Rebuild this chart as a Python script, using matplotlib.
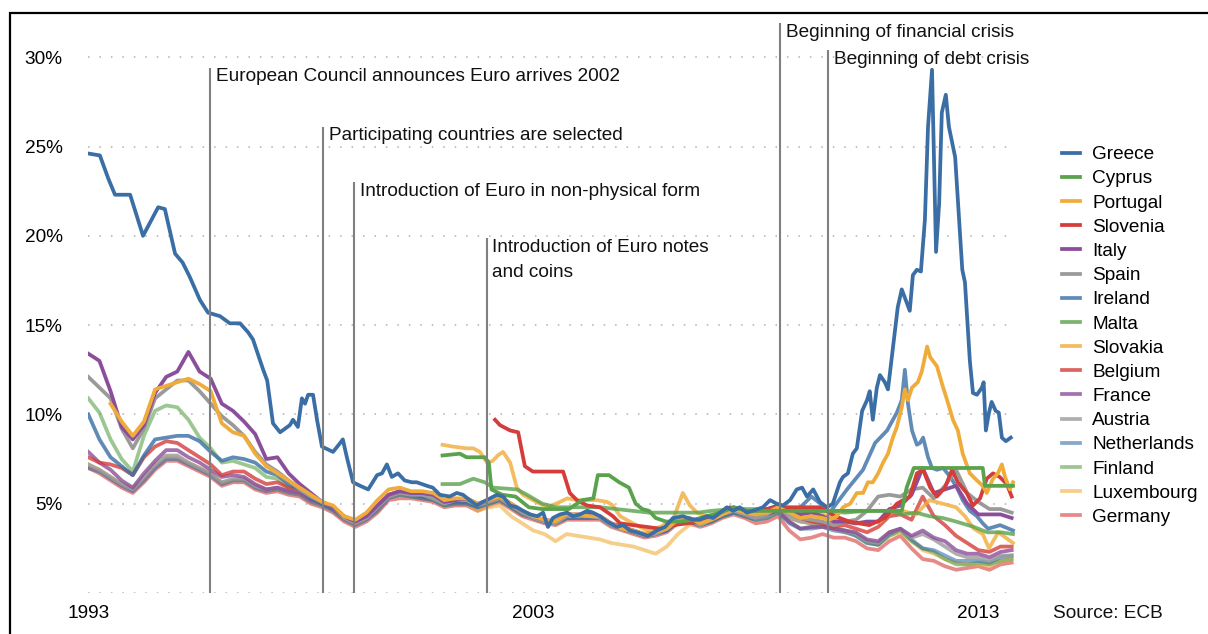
import matplotlib
matplotlib.use('Agg')
import matplotlib.pyplot as plt
import matplotlib.patches as mpatches
import numpy as np

plt.rcParams['font.family'] = ['Liberation Sans', 'DejaVu Sans']

# quarterly time axis used by the series that sit in the main pack
qt = np.arange(1993, 2013.76, 0.25)

germany = [7.0, 6.7, 6.3, 5.9,  5.6, 6.2, 6.9, 7.4,  7.4, 7.1, 6.8, 6.5,  6.0, 6.2, 6.2, 5.8,
           5.6, 5.7, 5.5, 5.4,  5.0, 4.8, 4.5, 4.0,  3.7, 4.0, 4.5, 5.2,  5.3, 5.3, 5.2, 5.1,
           4.8, 4.9, 4.9, 4.6,  4.9, 5.1, 4.7, 4.3,  4.1, 3.9, 3.8, 4.1,  4.1, 4.1, 4.1, 3.7,
           3.5, 3.3, 3.1, 3.2,  3.4, 3.9, 3.9, 3.7,  3.9, 4.2, 4.4, 4.2,  3.9, 4.0, 4.3, 3.5,
           3.0, 3.1, 3.3, 3.1,  3.1, 2.9, 2.5, 2.4,  2.9, 3.2, 2.5, 1.9,  1.8, 1.5, 1.3, 1.4,
           1.5, 1.3, 1.6, 1.7]
netherlands = [7.0, 6.8, 6.4, 6.0,  5.7, 6.3, 7.0, 7.5,  7.5, 7.2, 6.9, 6.6,  6.1, 6.3, 6.3, 5.9,
               5.7, 5.8, 5.6, 5.5,  5.1, 4.9, 4.6, 4.1,  3.8, 4.1, 4.6, 5.3,  5.5, 5.4, 5.3, 5.2,
               4.9, 5.0, 5.0, 4.8,  5.0, 5.2, 4.8, 4.4,  4.2, 4.0, 3.9, 4.2,  4.2, 4.2, 4.2, 3.8,
               3.6, 3.4, 3.2, 3.3,  3.5, 4.0, 4.0, 3.8,  4.0, 4.3, 4.5, 4.3,  4.1, 4.2, 4.5, 3.9,
               3.6, 3.6, 3.7, 3.5,  3.4, 3.2, 2.8, 2.7,  3.3, 3.6, 3.0, 2.5,  2.4, 2.1, 1.8, 1.8,
               1.8, 1.7, 2.0, 2.1]
austria = [7.2, 6.9, 6.5, 6.1,  5.8, 6.5, 7.2, 7.7,  7.7, 7.3, 7.0, 6.7,  6.2, 6.4, 6.4, 6.0,
           5.8, 5.9, 5.7, 5.6,  5.2, 5.0, 4.7, 4.2,  3.9, 4.2, 4.8, 5.4,  5.6, 5.5, 5.4, 5.3,
           5.0, 5.1, 5.1, 4.8,  5.1, 5.3, 4.9, 4.5,  4.2, 4.0, 3.9, 4.2,  4.2, 4.2, 4.2, 3.8,
           3.6, 3.4, 3.2, 3.3,  3.5, 4.0, 4.0, 3.8,  4.0, 4.3, 4.5, 4.4,  4.2, 4.3, 4.6, 4.2,
           4.0, 3.9, 3.9, 3.6,  3.5, 3.3, 2.9, 2.8,  3.4, 3.6, 3.1, 3.3,  3.0, 2.6, 2.2, 2.0,
           2.0, 1.8, 2.1, 2.1]
france = [7.9, 7.3, 6.9, 6.3,  5.9, 6.7, 7.4, 8.0,  8.0, 7.6, 7.3, 6.9,  6.5, 6.6, 6.5, 6.1,
          5.8, 5.9, 5.7, 5.6,  5.2, 5.0, 4.7, 4.2,  3.9, 4.2, 4.8, 5.4,  5.6, 5.5, 5.4, 5.3,
          5.0, 5.1, 5.1, 4.9,  5.1, 5.3, 4.9, 4.5,  4.2, 4.0, 3.9, 4.3,  4.3, 4.3, 4.2, 3.9,
          3.6, 3.4, 3.2, 3.3,  3.5, 4.0, 4.1, 3.9,  4.1, 4.4, 4.6, 4.4,  4.2, 4.4, 4.6, 4.0,
          3.6, 3.7, 3.7, 3.6,  3.5, 3.4, 3.0, 2.9,  3.4, 3.6, 3.2, 3.5,  3.1, 2.9, 2.4, 2.2,
          2.2, 2.0, 2.3, 2.4]
belgium = [7.6, 7.3, 7.2, 7.0,  6.6, 7.6, 8.2, 8.5,  8.4, 8.0, 7.6, 7.2,  6.6, 6.8, 6.8, 6.4,
           6.1, 6.2, 5.9, 5.8,  5.3, 5.1, 4.8, 4.2,  3.9, 4.3, 4.9, 5.5,  5.7, 5.6, 5.5, 5.4,
           5.1, 5.2, 5.2, 4.9,  5.1, 5.3, 4.9, 4.5,  4.2, 4.0, 3.9, 4.3,  4.3, 4.3, 4.2, 3.9,
           3.6, 3.4, 3.2, 3.3,  3.6, 4.0, 4.1, 3.9,  4.1, 4.4, 4.6, 4.4,  4.3, 4.4, 4.7, 4.5,
           4.2, 4.0, 3.9, 3.7,  3.8, 3.6, 3.4, 3.7,  4.3, 4.4, 4.1, 5.4,  4.3, 3.8, 3.2, 2.8,
           2.4, 2.3, 2.6, 2.6]
finland = [10.9, 10.1, 8.6, 7.5,  6.8, 8.8, 10.2, 10.5,  10.4, 9.7, 8.7, 8.1,  7.3, 7.4, 7.2, 7.0,
           6.5, 6.4, 5.9, 5.8,  5.3, 5.0, 4.7, 4.2,  3.9, 4.2, 4.7, 5.4,  5.5, 5.4, 5.3, 5.2,
           4.9, 5.0, 5.0, 4.8,  5.0, 5.2, 4.8, 4.4,  4.2, 4.0, 3.9, 4.2,  4.2, 4.2, 4.2, 3.8,
           3.6, 3.4, 3.2, 3.3,  3.5, 4.0, 4.0, 3.8,  4.0, 4.3, 4.5, 4.3,  4.1, 4.2, 4.5, 4.0,
           3.6, 3.7, 3.8, 3.6,  3.5, 3.2, 2.8, 2.7,  3.2, 3.5, 2.9, 2.5,  2.3, 1.9, 1.6, 1.6,
           1.7, 1.6, 1.8, 1.9]
luxembourg = [7.2, 6.9, 6.5, 6.1,  5.9, 6.5, 7.2, 7.6,  7.6, 7.3, 7.0, 6.7,  6.2, 6.3, 6.3, 6.0,
              5.8, 5.8, 5.6, 5.5,  5.1, 4.9, 4.6, 4.1,  3.8, 4.2, 4.7, 5.4,  5.5, 5.5, 5.4, 5.3,
              4.9, 5.0, 5.0, 4.6,  4.8, 4.9, 4.3, 3.9,  3.5, 3.3, 2.9, 3.3,  3.2, 3.1, 3.0, 2.8,
              2.7, 2.6, 2.4, 2.2,  2.6, 3.3, 3.8, 3.9,  4.1, 4.4, 4.6, 4.4,  4.2, 4.3, 4.6, 4.2,
              4.0, 3.9, 3.9, 3.6,  3.4, 3.3, 2.9, 2.7,  3.2, 3.4, 2.9, 2.4,  2.2, 1.9, 1.7, 1.6,
              1.6, 1.5, 1.8, 1.9]
italy = [13.4, 13.0, 11.3, 9.3,  8.6, 9.4, 11.2, 12.1,  12.4, 13.5, 12.4, 12.0,  10.6, 10.2, 9.6, 8.9,
         7.5, 7.6, 6.7, 6.1,  5.6, 5.1, 4.8, 4.3,  4.0, 4.3, 4.9, 5.5,  5.7, 5.6, 5.6, 5.5,
         5.1, 5.2, 5.3, 5.0,  5.2, 5.4, 5.0, 4.6,  4.3, 4.1, 4.0, 4.4,  4.4, 4.4, 4.3, 3.9,
         3.7, 3.5, 3.3, 3.4,  3.7, 4.2, 4.2, 4.0,  4.2, 4.5, 4.8, 4.6,  4.5, 4.7, 4.9, 4.7,
         4.4, 4.5, 4.3, 4.0,  4.0, 3.9, 4.0, 4.0,  4.7, 4.9, 5.5, 7.0,  5.6, 5.8, 6.0, 5.0,
         4.4, 4.4, 4.4, 4.2]
spain = [12.1, 11.5, 10.9, 9.2,  8.1, 9.2, 10.9, 11.4,  11.9, 11.9, 11.3, 10.6,  9.9, 9.4, 8.8, 7.9,
         7.2, 6.8, 6.3, 5.8,  5.4, 5.1, 4.8, 4.2,  3.9, 4.2, 4.8, 5.4,  5.6, 5.5, 5.5, 5.3,
         5.0, 5.2, 5.2, 4.9,  5.1, 5.3, 4.9, 4.5,  4.2, 4.0, 3.9, 4.3,  4.3, 4.3, 4.2, 3.8,
         3.6, 3.4, 3.2, 3.3,  3.6, 4.0, 4.1, 3.8,  4.1, 4.4, 4.6, 4.4,  4.2, 4.4, 4.8, 4.4,
         4.2, 4.1, 4.0, 3.8,  4.0, 4.1, 4.6, 5.4,  5.5, 5.4, 5.8, 5.9,  5.3, 6.0, 6.9, 5.6,
         5.1, 4.7, 4.7, 4.5]
# Ireland: quarterly up to 2008, then the crisis points
ireland_early = [10.0, 8.6, 7.6, 7.1,  6.6, 7.7, 8.6, 8.7,  8.8, 8.8, 8.5, 7.9,  7.4, 7.6, 7.5, 7.3,
                 6.8, 6.6, 6.1, 5.8,  5.3, 5.0, 4.7, 4.2,  3.9, 4.2, 4.8, 5.4,  5.6, 5.5, 5.4, 5.3,
                 5.0, 5.1, 5.1, 4.8,  5.1, 5.3, 4.9, 4.5,  4.2, 4.0, 3.9, 4.2,  4.2, 4.2, 4.2, 3.8,
                 3.6, 3.4, 3.2, 3.3,  3.5, 4.0, 4.0, 3.8,  4.0, 4.3, 4.5, 4.4,  4.3, 4.5, 4.7, 4.6]
ireland_late = [(2009.0, 4.8), (2009.25, 5.4), (2009.5, 4.9), (2009.66, 4.5), (2010.05, 5.8),
                (2010.41, 6.9), (2010.68, 8.4), (2010.95, 9.1), (2011.17, 10.1), (2011.28, 10.8),
                (2011.35, 12.5), (2011.42, 10.6), (2011.51, 9.1), (2011.62, 8.3), (2011.69, 8.4),
                (2011.76, 8.7), (2011.87, 7.6), (2011.96, 7.0), (2012.07, 6.9), (2012.21, 7.0),
                (2012.37, 6.5), (2012.52, 5.9), (2012.65, 5.2), (2012.81, 4.6), (2012.97, 4.3),
                (2013.1, 3.9), (2013.22, 3.6), (2013.49, 3.8), (2013.78, 3.5)]
# Portugal: quarterly from mid 1993 up to 2008, then crisis points
portugal_early = [10.6, 9.6,  8.8, 9.6, 11.4, 11.6,  11.8, 12.0, 11.7, 11.3,  9.5, 9.0, 8.8, 7.8,
                  7.1, 6.7, 6.3, 5.9,  5.5, 5.1, 4.9, 4.3,  4.1, 4.5, 5.2, 5.8,  5.9, 5.7, 5.7, 5.6,
                  5.2, 5.3, 5.3, 5.0,  5.2, 5.4, 5.0, 4.6,  4.3, 4.1, 4.0, 4.4,  4.4, 4.3, 4.3, 3.9,
                  3.6, 3.5, 3.3, 3.4,  3.6, 4.1, 4.2, 3.9,  4.1, 4.4, 4.7, 4.5,  4.4, 4.5, 4.8, 4.5]
portugal_late = [(2009.0, 4.2), (2009.25, 4.3), (2009.5, 4.2), (2009.66, 4.1), (2009.82, 4.3),
                 (2009.96, 4.8), (2010.12, 5.0), (2010.27, 5.6), (2010.41, 5.6), (2010.52, 6.2),
                 (2010.63, 6.2), (2010.75, 6.7), (2010.86, 7.3), (2010.97, 7.8), (2011.08, 8.7),
                 (2011.17, 9.3), (2011.28, 10.4), (2011.35, 11.4), (2011.42, 10.8), (2011.51, 11.5),
                 (2011.64, 11.8), (2011.73, 12.4), (2011.85, 13.8), (2011.92, 13.2), (2011.98, 13.0),
                 (2012.07, 12.7), (2012.21, 11.5), (2012.3, 10.8), (2012.43, 9.7), (2012.54, 9.1),
                 (2012.65, 7.8), (2012.81, 6.7), (2012.97, 6.3), (2013.1, 6.0), (2013.19, 5.6),
                 (2013.33, 6.4), (2013.44, 6.7), (2013.53, 7.2), (2013.6, 6.5), (2013.71, 5.8),
                 (2013.78, 6.2)]
greece = [(1993.02, 24.6), (1993.26, 24.5), (1993.45, 23.2), (1993.60, 22.3), (1993.94, 22.3),
          (1994.23, 20.0), (1994.40, 20.8), (1994.57, 21.6), (1994.72, 21.5), (1994.95, 19.0),
          (1995.12, 18.5), (1995.28, 17.7), (1995.51, 16.4), (1995.69, 15.7), (1995.96, 15.5),
          (1996.18, 15.1), (1996.41, 15.1), (1996.59, 14.6), (1996.70, 14.2), (1996.93, 12.5),
          (1997.02, 11.9), (1997.15, 9.5), (1997.31, 9.0), (1997.53, 9.4), (1997.60, 9.7),
          (1997.71, 9.3), (1997.80, 10.9), (1997.87, 10.6), (1997.94, 11.1), (1998.05, 11.1),
          (1998.14, 9.7), (1998.25, 8.2), (1998.50, 7.9), (1998.66, 8.4), (1998.72, 8.6),
          (1998.81, 7.6), (1998.95, 6.2), (1999.11, 6.0), (1999.29, 5.8), (1999.49, 6.6),
          (1999.60, 6.7), (1999.71, 7.2), (1999.82, 6.5), (1999.96, 6.7), (2000.11, 6.3),
          (2000.27, 6.2), (2000.38, 6.2), (2000.61, 6.0), (2000.74, 5.9), (2000.90, 5.5),
          (2001.12, 5.4), (2001.28, 5.6), (2001.42, 5.5), (2001.57, 5.2), (2001.73, 4.9),
          (2001.87, 5.1), (2002.03, 5.3), (2002.18, 5.5), (2002.32, 5.4), (2002.48, 4.9),
          (2002.63, 4.8), (2002.77, 4.6), (2002.93, 4.4), (2003.09, 4.3), (2003.22, 4.5),
          (2003.33, 3.7), (2003.44, 4.2), (2003.60, 4.4), (2003.76, 4.5), (2003.89, 4.3),
          (2004.05, 4.4), (2004.21, 4.6), (2004.34, 4.5), (2004.50, 4.3), (2004.66, 4.0),
          (2004.88, 3.7), (2005.02, 3.8), (2005.17, 3.5), (2005.33, 3.4), (2005.58, 3.2),
          (2005.78, 3.5), (2005.96, 3.7), (2006.14, 4.2), (2006.36, 4.3), (2006.59, 4.1),
          (2006.74, 4.1), (2006.90, 4.3), (2007.04, 4.2), (2007.20, 4.5), (2007.35, 4.8),
          (2007.49, 4.6), (2007.64, 4.8), (2007.80, 4.5), (2007.93, 4.6), (2008.16, 4.8),
          (2008.32, 5.2), (2008.47, 5.0), (2008.61, 4.9), (2008.77, 5.2), (2008.92, 5.8),
          (2009.04, 5.9), (2009.15, 5.4), (2009.29, 5.8), (2009.44, 5.1), (2009.60, 4.8),
          (2009.73, 5.0), (2009.89, 6.2), (2009.96, 6.5), (2010.07, 6.7), (2010.18, 7.8),
          (2010.27, 8.1), (2010.39, 10.2), (2010.50, 10.8), (2010.56, 11.3), (2010.63, 9.7),
          (2010.72, 11.5), (2010.79, 12.2), (2010.90, 11.8), (2010.97, 11.4), (2011.06, 13.3),
          (2011.19, 16.0), (2011.28, 17.0), (2011.46, 15.8), (2011.53, 17.8), (2011.62, 18.1),
          (2011.71, 18.0), (2011.80, 20.9), (2011.87, 26.1), (2011.96, 29.3), (2012.05, 19.1),
          (2012.12, 21.8), (2012.18, 26.9), (2012.27, 27.9), (2012.34, 26.1), (2012.48, 24.4),
          (2012.64, 18.1), (2012.70, 17.4), (2012.81, 13.0), (2012.88, 11.2), (2012.97, 11.1),
          (2013.08, 11.5), (2013.12, 11.8), (2013.17, 9.1), (2013.24, 10.1), (2013.30, 10.7),
          (2013.39, 10.2), (2013.46, 10.1), (2013.53, 8.7), (2013.62, 8.5), (2013.73, 8.7)]
cyprus = [(2000.96, 7.7), (2001.35, 7.8), (2001.5, 7.6), (2001.91, 7.6), (2002.0, 7.3),
          (2002.06, 5.8), (2002.3, 5.5), (2002.6, 5.4), (2002.9, 4.8), (2003.2, 4.7),
          (2003.5, 4.7), (2003.8, 4.7), (2004.1, 5.2), (2004.35, 5.3), (2004.45, 6.6),
          (2004.7, 6.6), (2004.93, 6.2), (2005.15, 5.9), (2005.3, 5.0), (2005.45, 4.7),
          (2005.6, 4.6), (2005.75, 4.2), (2005.98, 4.0), (2006.3, 4.0), (2006.6, 4.1),
          (2006.9, 4.3), (2007.2, 4.5), (2007.5, 4.8), (2007.8, 4.6), (2008.1, 4.6),
          (2008.5, 4.6), (2008.7, 4.6), (2011.28, 4.6), (2011.39, 5.9), (2011.55, 7.0),
          (2013.1, 7.0), (2013.15, 6.0), (2013.78, 6.0)]
malta = [(2000.96, 6.1), (2001.35, 6.1), (2001.65, 6.4), (2001.91, 6.2), (2002.1, 5.9),
         (2002.63, 5.8), (2002.86, 5.5), (2003.2, 5.0), (2003.53, 4.8), (2004.5, 4.8),
         (2005.6, 4.5), (2006.7, 4.5), (2007.0, 4.6), (2007.5, 4.7), (2008.0, 4.7),
         (2008.5, 4.7), (2009.0, 4.6), (2009.5, 4.6), (2010.0, 4.5), (2010.5, 4.6),
         (2011.0, 4.6), (2011.3, 4.4), (2011.6, 4.5), (2011.9, 4.3), (2012.2, 4.2),
         (2012.5, 4.0), (2012.9, 3.7), (2013.2, 3.4), (2013.5, 3.4), (2013.78, 3.3)]
slovakia = [(2000.96, 8.3), (2001.19, 8.2), (2001.5, 8.1), (2001.65, 8.1), (2001.8, 7.9),
            (2001.96, 7.3), (2002.09, 7.4), (2002.2, 7.7), (2002.32, 7.9), (2002.48, 7.3),
            (2002.63, 5.9), (2002.77, 5.5), (2002.99, 5.2), (2003.31, 4.8), (2003.6, 5.1),
            (2003.76, 5.3), (2003.98, 5.2), (2004.21, 5.2), (2004.43, 5.2), (2004.66, 5.1),
            (2004.79, 4.9), (2004.95, 4.3), (2005.24, 3.9), (2005.55, 3.5), (2005.85, 3.7),
            (2006.14, 4.1), (2006.36, 5.6), (2006.52, 4.9), (2006.68, 4.5), (2006.9, 4.3),
            (2007.2, 4.4), (2007.5, 4.6), (2007.8, 4.6), (2008.1, 4.5), (2008.4, 4.7),
            (2008.7, 4.6), (2009.0, 4.7), (2009.3, 4.6), (2009.6, 4.3), (2009.9, 4.1),
            (2010.2, 3.9), (2010.5, 3.9), (2010.8, 4.0), (2011.0, 4.5), (2011.3, 4.6),
            (2011.6, 4.4), (2011.9, 5.2), (2012.2, 5.0), (2012.5, 4.8), (2012.7, 4.3),
            (2012.9, 3.6), (2013.1, 3.3), (2013.24, 2.5), (2013.45, 3.4), (2013.78, 2.8)]
slovenia = [(2002.14, 9.7), (2002.25, 9.4), (2002.48, 9.1), (2002.66, 9.0), (2002.81, 7.1),
            (2002.99, 6.8), (2003.67, 6.8), (2003.82, 5.6), (2003.98, 5.2), (2004.21, 4.9),
            (2004.5, 4.8), (2004.79, 4.3), (2004.95, 3.9), (2005.24, 3.8), (2005.55, 3.7),
            (2005.85, 3.6), (2006.14, 3.8), (2006.45, 3.9), (2006.74, 4.0), (2007.12, 4.4),
            (2007.42, 4.8), (2007.87, 4.5), (2008.47, 4.8), (2008.83, 4.8), (2009.44, 4.8),
            (2009.78, 4.3), (2010.1, 4.0), (2010.55, 3.8), (2010.9, 4.2), (2011.17, 5.0),
            (2011.46, 5.4), (2011.62, 6.7), (2011.76, 6.9), (2011.92, 5.9), (2012.07, 5.4),
            (2012.25, 5.9), (2012.41, 6.9), (2012.54, 6.2), (2012.74, 5.6), (2012.88, 4.9),
            (2013.04, 5.3), (2013.19, 6.4), (2013.33, 6.7), (2013.48, 6.5), (2013.64, 6.1),
            (2013.75, 5.4)]

names = ['Greece', 'Cyprus', 'Portugal', 'Slovenia', 'Italy', 'Spain', 'Ireland', 'Malta',
         'Slovakia', 'Belgium', 'France', 'Austria', 'Netherlands', 'Finland', 'Luxembourg', 'Germany']

events_year = [1995.73, 1998.27, 1998.97, 2001.95, 2008.55, 2009.63]
events_top = [29.4, 26.1, 23.0, 19.9, 31.9, 30.4]
events_text = ['European Council announces Euro arrives 2002', 'Participating countries are selected',
               'Introduction of Euro in non-physical form', 'Introduction of Euro notes\nand coins',
               'Beginning of financial crisis', 'Beginning of debt crisis']

def split(pairs):
    return [p[0] for p in pairs], [p[1] for p in pairs]

series = {}
series['Greece'] = split(greece)
series['Cyprus'] = split(cyprus)
series['Portugal'] = (list(qt[2:64]) + split(portugal_late)[0], portugal_early + split(portugal_late)[1])
series['Slovenia'] = split(slovenia)
series['Italy'] = (qt, italy)
series['Spain'] = (qt, spain)
series['Ireland'] = (list(qt[:64]) + split(ireland_late)[0], ireland_early + split(ireland_late)[1])
series['Malta'] = split(malta)
series['Slovakia'] = split(slovakia)
series['Belgium'] = (qt, belgium)
series['France'] = (qt, france)
series['Austria'] = (qt, austria)
series['Netherlands'] = (qt, netherlands)
series['Finland'] = (qt, finland)
series['Luxembourg'] = (qt, luxembourg)
series['Germany'] = (qt, germany)

base = ['#3a6ea5', '#5aa24b', '#f0ac3a', '#d43d3a', '#8b4e9a', '#9a9a9a']
alphas = [1.0] * 6 + [0.8] * 6 + [0.6] * 4

W, H = 1208, 634
fig = plt.figure(figsize=(W / 100, H / 100), dpi=100)
ax = fig.add_axes([88.3 / W, 1 - 593 / H, 44.5 * 20.85 / W, 571.5 / H])
ax.set_xlim(1993, 2013.85)
ax.set_ylim(0, 32)
for s in ax.spines.values():
    s.set_visible(False)

# dotted grid
for g in range(0, 31, 5):
    ax.hlines(g, 1993, 2013.64, colors='#b0b0b0', linestyles=(0, (1, 6.5)), lw=1.1, zorder=1)

handles = []
for i, n in enumerate(names):
    t, v = series[n]
    ln, = ax.plot(t, v, color=base[i % 6], alpha=alphas[i], lw=2.7, zorder=100 - i,
                  solid_joinstyle='round', label=n)
    handles.append(ln)

for yr, top, txt in zip(events_year, events_top, events_text):
    ax.vlines(yr, 0, top, colors='#808080', lw=1.5, zorder=200)
    nl = txt.count('\n')
    ax.text(yr + 0.13, top - 0.5 - nl * 0.75, txt, fontsize=13.7, va='center', ha='left',
            color='#111111', linespacing=1.65, zorder=210)

ax.set_yticks([5, 10, 15, 20, 25, 30])
ax.set_yticklabels(['5%', '10%', '15%', '20%', '25%', '30%'], fontsize=13.7)
ax.set_xticks([1993, 2003, 2013])
ax.set_xticklabels(['1993', '2003', '2013'], fontsize=13.7)
ax.tick_params(axis='y', length=0, pad=18.5)
ax.tick_params(axis='x', length=0, pad=9)

fig.text(1053 / W, 1 - 613 / H, 'Source: ECB', fontsize=13.7, va='center', ha='left', color='#111111')

fig.legend(handles=handles, loc='upper left', bbox_to_anchor=(1062 / W, 1 - 146 / H), frameon=False,
           fontsize=13.7, handlelength=0.95, handletextpad=0.65, labelspacing=0.36,
           borderpad=0, borderaxespad=0)

frame = mpatches.Rectangle((10 / W, -0.1), 2, 1 - 12.5 / H + 0.1, transform=fig.transFigure,
                           fill=False, edgecolor='black', lw=1.6)
fig.patches.append(frame)

plt.savefig('out.png', dpi=100)
